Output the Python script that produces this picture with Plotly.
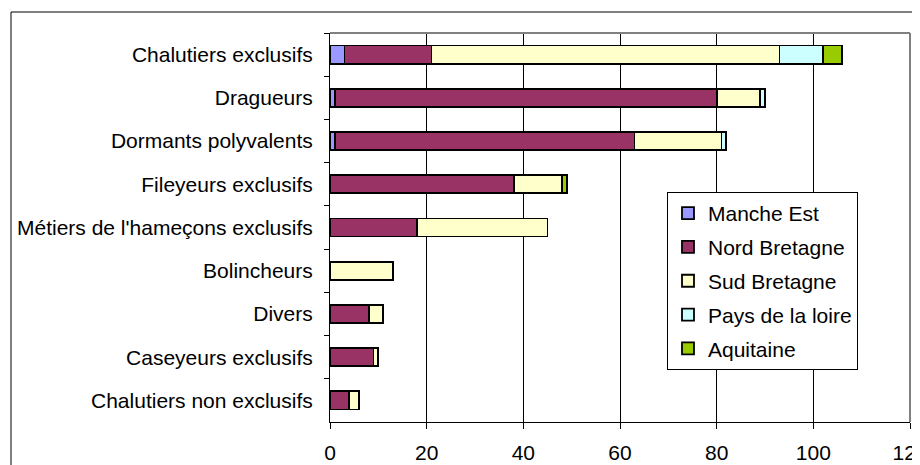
import plotly.graph_objects as go

categories = [
    "Chalutiers exclusifs",
    "Dragueurs",
    "Dormants polyvalents",
    "Fileyeurs exclusifs",
    "Métiers de l'hameçons exclusifs",
    "Bolincheurs",
    "Divers",
    "Caseyeurs exclusifs",
    "Chalutiers non exclusifs",
]
manche_est = [3, 1, 1, None, None, None, None, None, None]
nord_bretagne = [18, 79, 62, 38, 18, None, 8, 9, 4]
sud_bretagne = [72, 9, 18, 10, 27, 13, 3, 1, 2]
pays_de_la_loire = [9, 1, 1, None, None, None, None, None, None]
aquitaine = [4, None, None, 1, None, None, None, None, None]

series_names = ["Manche Est", "Nord Bretagne", "Sud Bretagne", "Pays de la loire", "Aquitaine"]
series_values = [manche_est, nord_bretagne, sud_bretagne, pays_de_la_loire, aquitaine]
series_colors = ["#9999FF", "#993366", "#FFFFCC", "#CCFFFF", "#99CC00"]
x_ticks = [0, 20, 40, 60, 80, 100, 120]

FONT = "Liberation Sans, Arial, sans-serif"

fig = go.Figure()
for name, vals, col in zip(series_names, series_values, series_colors):
    fig.add_trace(go.Bar(
        y=categories, x=vals, name=name, orientation="h",
        marker=dict(color=col, line=dict(color="black", width=1.8)),
        legendgroup=name,
    ))

# page has an 8px body margin: figure coordinates = page coordinates - 8
OFF = 8
W, H = 920 - OFF, 465 - OFF
L, T = 330 - OFF, 33 - OFF
PR, PB = 910 - OFF, 422 - OFF
R, B = W - PR, H - PB
pw, ph = PR - L, PB - T

fig.update_layout(
    width=W, height=H, autosize=False,
    margin=dict(l=L, r=R, t=T, b=B, pad=0, autoexpand=False),
    barmode="stack", bargap=0.58,
    plot_bgcolor="white", paper_bgcolor="white",
    font=dict(family=FONT, size=21, color="black"),
    showlegend=True,
    legend=dict(
        x=(667 - OFF - L) / pw, xanchor="left",
        y=(PB - (192 - OFF)) / ph, yanchor="top",
        bordercolor="black", borderwidth=1, bgcolor="white",
        traceorder="grouped", tracegroupgap=3.5,
        itemwidth=30,
        font=dict(family=FONT, size=21, color="black"),
    ),
    xaxis=dict(
        range=[0, 120], tickvals=x_ticks, ticktext=[str(v) for v in x_ticks],
        showgrid=True, gridcolor="black", gridwidth=1,
        zeroline=False, showline=True, linecolor="black", linewidth=1,
        ticks="outside", ticklen=6, tickcolor="black", tickwidth=1,
        ticklabelstandoff=6, automargin=False, ticklabeloverflow="allow",
        fixedrange=True,
    ),
    yaxis=dict(
        categoryorder="array", categoryarray=categories, autorange="reversed",
        showgrid=False, zeroline=False,
        showline=True, linecolor="black", linewidth=1,
        ticks="outside", ticklen=5, tickcolor="black", tickson="boundaries",
        ticklabelstandoff=12, automargin=False,
        fixedrange=True,
    ),
)

# plot-area border (gray top/right)
fig.add_shape(type="line", xref="paper", yref="paper", x0=0, x1=1, y0=1, y1=1,
              line=dict(color="#808080", width=2), layer="above")
fig.add_shape(type="line", xref="paper", yref="paper", x0=1, x1=1, y0=0, y1=1,
              line=dict(color="#808080", width=2), layer="above")
# outer chart frame (cropped at right and bottom)
fig.add_shape(type="rect", xref="paper", yref="paper",
              x0=(11 - OFF - L) / pw, x1=(W + 20 - L) / pw,
              y0=-(B + 20) / ph, y1=1 + (T - (12 - OFF)) / ph,
              line=dict(color="black", width=1), fillcolor="rgba(0,0,0,0)", layer="below")

fig.write_html("out.html")
